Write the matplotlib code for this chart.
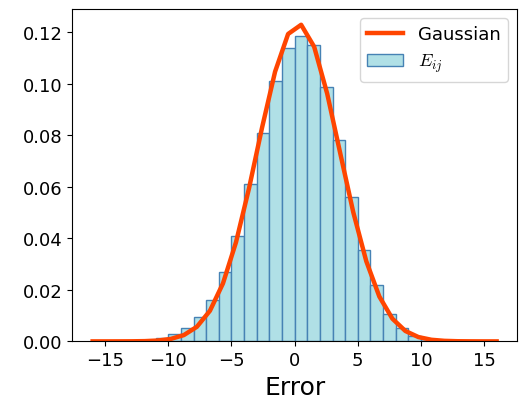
import numpy as np
import matplotlib
matplotlib.use('Agg')
import matplotlib.pyplot as plt

plt.rcParams['mathtext.fontset'] = 'cm'

# Histogram of the error (density), unit-width bins from -12 to 12
bin_edges = [-12, -11, -10, -9, -8, -7, -6, -5, -4, -3, -2, -1, 0,
             1, 2, 3, 4, 5, 6, 7, 8, 9, 10, 11, 12]
hist_density = [0.0003, 0.0014, 0.0030, 0.0050, 0.0096, 0.0161, 0.0268,
                0.0410, 0.0612, 0.0810, 0.1009, 0.1138, 0.1186, 0.1151,
                0.0988, 0.0783, 0.0559, 0.0355, 0.0217, 0.0105, 0.0050,
                0.0022, 0.0008, 0.0003]

# Fitted Gaussian curve, sampled on 32 points between -16 and 16
gauss_x = np.linspace(-16, 16, 32)
gauss_y = [0.0, 0.0, 0.00001, 0.00003, 0.0001, 0.00033, 0.00095, 0.00244,
           0.00566, 0.01186, 0.02247, 0.03843, 0.05938, 0.08291, 0.10462,
           0.11926, 0.12283, 0.11429, 0.09608, 0.07298, 0.05010, 0.03107,
           0.01740, 0.00881, 0.00403, 0.00167, 0.00062, 0.00021, 0.00006,
           0.00002, 0.0, 0.0]

fig = plt.figure(figsize=(5.21, 4.14), dpi=100)
ax = fig.add_axes([0.139, 0.173, 0.853, 0.803])

widths = np.diff(bin_edges)
ax.bar(bin_edges[:-1], hist_density, width=widths, align='edge',
       color='powderblue', edgecolor='steelblue', linewidth=1,
       label=r'$E_{ij}$')
ax.plot(gauss_x, gauss_y, color='orangered', linewidth=3.2, label='Gaussian')

ax.set_xticks([-15, -10, -5, 0, 5, 10, 15])
ax.set_yticks([0.0, 0.02, 0.04, 0.06, 0.08, 0.10, 0.12])
ax.yaxis.set_major_formatter(matplotlib.ticker.FormatStrFormatter('%.2f'))
ax.tick_params(labelsize=13)
ax.set_xlabel('Error', fontsize=18)

ax.legend(loc='upper right', fontsize=13)

fig.savefig('out.png', dpi=100)
